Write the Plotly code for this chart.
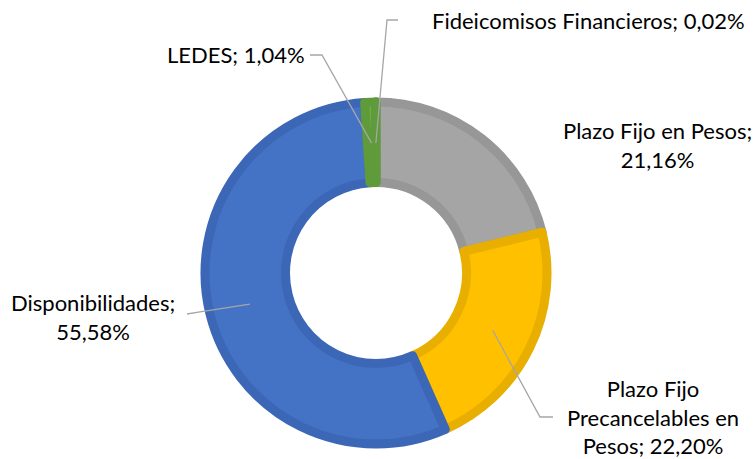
import numpy as np
import plotly.graph_objects as go

W, H = 756, 459

# slices in clockwise order from 12 o'clock
labels = ["Plazo Fijo en Pesos", "Plazo Fijo Precancelables en Pesos",
          "Disponibilidades", "LEDES", "Fideicomisos Financieros"]
values = [21.16, 22.20, 55.58, 1.04, 0.02]
label_texts = ["Plazo Fijo en Pesos;<br>21,16%",
               "Plazo Fijo<br>Precancelables en<br>Pesos; 22,20%",
               "Disponibilidades;<br>55,58%",
               "LEDES; 1,04%",
               "Fideicomisos Financieros; 0,02%"]
fills = ["#A5A5A5", "#FFC000", "#4472C4", "#70AD47", "#70AD47"]
borders = ["#979797", "#E8AE00", "#3C67B6", "#5F9A3B", "#5F9A3B"]

# geometry in pixels (geometric radius, stroke is centred on the edge)
cx, cy = 376, 273
stroke = 9
R = 175.5 - stroke / 2
hole = (86 + stroke / 2) / R

# label centres (px) and leader elbow points (px), None = no leader
label_pos = [(657, 145), (653, 417), (93, 317), (236, 55), (588, 21)]
elbows = [None,
          [(540, 417), (553, 417)],
          [(200, 312), (187, 314)],
          [(322, 55), (310, 55)],
          [(387, 20), (398, 20)]]

fig = go.Figure()
fig.add_trace(go.Pie(
    labels=labels, values=values, sort=False, direction="clockwise",
    rotation=0, hole=hole, textinfo="none", hoverinfo="label+percent",
    marker=dict(colors=fills, line=dict(color=borders, width=stroke)),
    domain=dict(x=[(cx - R) / W, (cx + R) / W],
                y=[1 - (cy + R) / H, 1 - (cy - R) / H]),
    showlegend=False,
))


def px2paper(x, y):
    return x / W, 1 - y / H


font = dict(family="Lato, 'Open Sans', sans-serif", size=22, color="#000000")
cum = np.cumsum([0] + values)
total = cum[-1]
for i, txt in enumerate(label_texts):
    lx, ly = px2paper(*label_pos[i])
    fig.add_annotation(x=lx, y=ly, xref="paper", yref="paper", text=txt,
                       xanchor="center", yanchor="middle",
                       showarrow=False, font=font, align="center")
    if elbows[i] is None:
        continue
    # leader line starts in the middle of the ring at the slice's mid angle
    mid = (cum[i] + cum[i + 1]) / 2 / total * 2 * np.pi
    rm = 130
    sx = cx + rm * np.sin(mid)
    sy = cy - rm * np.cos(mid)
    pts = [(sx, sy)] + elbows[i]
    path = "M " + " L ".join("%.4f,%.4f" % px2paper(x, y) for x, y in pts)
    fig.add_shape(type="path", path=path, xref="paper", yref="paper",
                  line=dict(color="#A6A6A6", width=1.3))

fig.update_layout(width=W, height=H, margin=dict(l=0, r=0, t=0, b=0),
                  paper_bgcolor="white", plot_bgcolor="white")
fig.write_html("out.html", config={"displayModeBar": False},
               post_script="document.body.style.margin='0';")
